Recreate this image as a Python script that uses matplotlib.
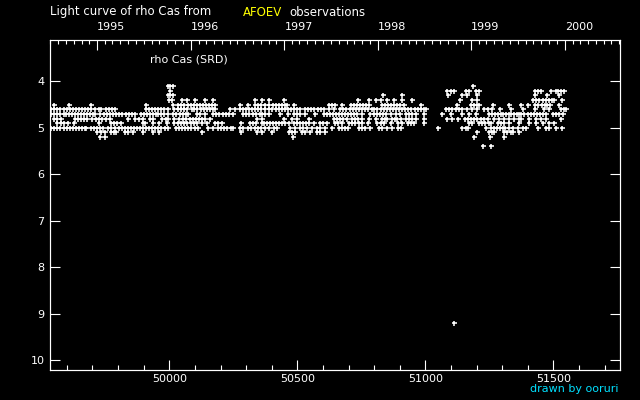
import datetime
import matplotlib
matplotlib.use("Agg")
import matplotlib.pyplot as plt
from matplotlib.ticker import MultipleLocator, FixedLocator, ScalarFormatter

# JD - 2400000 of each estimate, grouped by the visual magnitude (0.1 mag steps)
jd_m41 = [49996, 50004, 50016, 51186]
jd_m42 = [50003, 51086, 51099, 51112, 51158, 51171, 51198, 51208, 51430, 51442,
          51452, 51491, 51510, 51520, 51530, 51543]
jd_m43 = [49996, 50004, 50016, 50835, 50910, 51090, 51145, 51164, 51200, 51430,
          51474, 51521]
jd_m44 = [49999, 50009, 50048, 50068, 50100, 50139, 50172, 50335, 50361, 50388,
          50447, 50737, 50779, 50809, 50826, 50852, 50878, 50910, 50947, 51134,
          51184, 51203, 51422, 51434, 51446, 51458, 51470, 51482, 51494, 51504,
          51534]
jd_m45 = [49549, 49608, 49695, 49910, 50016, 50033, 50045, 50057, 50074, 50085,
          50097, 50109, 50121, 50133, 50145, 50157, 50168, 50178, 50276, 50306,
          50335, 50347, 50359, 50374, 50388, 50404, 50416, 50428, 50440, 50451,
          50460, 50486, 50622, 50634, 50648, 50674, 50711, 50723, 50733, 50746,
          50758, 50770, 50779, 50829, 50841, 50853, 50865, 50877, 50889, 50901,
          50917, 50982, 51125, 51177, 51189, 51201, 51210, 51263, 51328, 51374,
          51400, 51430, 51442, 51454, 51466, 51476, 51487, 51524]
jd_m46 = [49539, 49551, 49563, 49575, 49587, 49599, 49611, 49623, 49635, 49647,
          49659, 49671, 49683, 49695, 49708, 49724, 49734, 49754, 49766, 49778,
          49786, 49910, 49922, 49934, 49946, 49956, 49968, 49980, 49996, 50020,
          50035, 50046, 50058, 50070, 50087, 50098, 50110, 50122, 50134, 50146,
          50158, 50170, 50178, 50237, 50256, 50276, 50288, 50300, 50312, 50324,
          50336, 50348, 50360, 50374, 50391, 50403, 50415, 50427, 50439, 50451,
          50463, 50475, 50487, 50499, 50512, 50531, 50543, 50555, 50567, 50579,
          50591, 50603, 50622, 50642, 50668, 50680, 50692, 50704, 50716, 50728,
          50740, 50752, 50764, 50776, 50792, 50800, 50813, 50826, 50838, 50850,
          50862, 50874, 50886, 50898, 50910, 50922, 50934, 50946, 50958, 50970,
          50982, 50994, 51001, 51082, 51094, 51106, 51118, 51130, 51142, 51164,
          51184, 51203, 51231, 51244, 51260, 51292, 51335, 51380, 51430, 51465,
          51484, 51530, 51542, 51550]
jd_m47 = [49539, 49551, 49563, 49575, 49587, 49597, 49607, 49619, 49631, 49643,
          49655, 49667, 49679, 49691, 49703, 49708, 49728, 49745, 49757, 49769,
          49781, 49793, 49805, 49817, 49829, 49841, 49853, 49865, 49888, 49900,
          49912, 49924, 49936, 49948, 49956, 49968, 49980, 49996, 50016, 50028,
          50040, 50052, 50064, 50074, 50107, 50119, 50139, 50172, 50184, 50196,
          50208, 50220, 50232, 50250, 50289, 50301, 50313, 50325, 50337, 50354,
          50362, 50374, 50391, 50434, 50464, 50486, 50498, 50510, 50531, 50570,
          50603, 50615, 50627, 50639, 50651, 50663, 50675, 50687, 50699, 50711,
          50723, 50735, 50752, 50785, 50799, 50811, 50823, 50835, 50847, 50865,
          50887, 50900, 50923, 50935, 50947, 50962, 50995, 51066, 51099, 51142,
          51171, 51197, 51247, 51259, 51271, 51283, 51296, 51302, 51314, 51328,
          51335, 51347, 51359, 51367, 51374, 51386, 51400, 51413, 51425, 51437,
          51449, 51458, 51471, 51497, 51509, 51524, 51537]
jd_m48 = [49549, 49561, 49578, 49630, 49642, 49654, 49667, 49680, 49698, 49715,
          49727, 49739, 49751, 49767, 49838, 49867, 49880, 49897, 49923, 49936,
          49973, 49986, 49996, 50020, 50038, 50055, 50067, 50079, 50091, 50103,
          50115, 50127, 50139, 50159, 50341, 50361, 50447, 50479, 50499, 50544,
          50642, 50654, 50666, 50678, 50694, 50714, 50726, 50738, 50752, 50779,
          50809, 50829, 50842, 50852, 50869, 50881, 50891, 50904, 50923, 50936,
          50948, 50962, 50995, 51086, 51106, 51129, 51155, 51167, 51179, 51191,
          51203, 51218, 51231, 51244, 51270, 51289, 51309, 51328, 51348, 51367,
          51374, 51406, 51432, 51452, 51471, 51530]
jd_m49 = [49562, 49578, 49590, 49604, 49628, 49724, 49771, 49783, 49795, 49812,
          49897, 49904, 49936, 49960, 49990, 50020, 50035, 50047, 50059, 50071,
          50083, 50095, 50107, 50126, 50146, 50178, 50190, 50204, 50280, 50315,
          50327, 50339, 50361, 50369, 50381, 50393, 50405, 50417, 50429, 50441,
          50453, 50466, 50486, 50498, 50510, 50522, 50534, 50546, 50564, 50590,
          50602, 50616, 50648, 50660, 50674, 50703, 50715, 50727, 50740, 50753,
          50776, 50813, 50825, 50839, 50865, 50895, 50910, 50934, 50946, 50956,
          50995, 51171, 51184, 51211, 51223, 51235, 51247, 51257, 51283, 51295,
          51309, 51328, 51367, 51406, 51432, 51458, 51484, 51504]
jd_m50 = [49539, 49551, 49563, 49575, 49587, 49599, 49611, 49623, 49635, 49647,
          49659, 49671, 49676, 49693, 49705, 49717, 49729, 49741, 49760, 49773,
          49786, 49802, 49814, 49826, 49838, 49850, 49862, 49874, 49886, 49898,
          49910, 49922, 49934, 49946, 49956, 49968, 49983, 49996, 50025, 50037,
          50049, 50061, 50073, 50085, 50100, 50113, 50152, 50172, 50191, 50203,
          50215, 50227, 50240, 50250, 50276, 50289, 50309, 50321, 50333, 50345,
          50357, 50374, 50388, 50408, 50421, 50473, 50492, 50512, 50524, 50536,
          50557, 50577, 50589, 50609, 50635, 50661, 50673, 50685, 50697, 50740,
          50752, 50766, 50785, 50819, 50832, 50852, 50871, 50895, 50904, 51051,
          51145, 51158, 51168, 51237, 51257, 51269, 51281, 51293, 51302, 51313,
          51328, 51341, 51361, 51380, 51393, 51439, 51471, 51484, 51510, 51534]
jd_m51 = [49719, 49734, 49747, 49771, 49783, 49793, 49828, 49840, 49858, 49897,
          49936, 49960, 50126, 50280, 50341, 50361, 50401, 50466, 50478, 50492,
          50518, 50530, 50551, 50577, 50589, 50609, 51203, 51247, 51260, 51270,
          51309, 51321, 51333, 51341, 51367]
jd_m52 = [49728, 49750, 50482, 51190, 51253, 51309]
jd_m54 = [51224, 51257]
jd_m92 = [51113]

mags = [4.1, 4.2, 4.3, 4.4, 4.5, 4.6, 4.7, 4.8, 4.9, 5.0, 5.1, 5.2, 5.4, 9.2]
jd_rows = [jd_m41, jd_m42, jd_m43, jd_m44, jd_m45, jd_m46, jd_m47, jd_m48,
           jd_m49, jd_m50, jd_m51, jd_m52, jd_m54, jd_m92]

years = [1995, 1996, 1997, 1998, 1999, 2000]

#====================================================================================================

def jdOf(y, m):
    # JD - 2400000 at 0h UT of the first day of a month
    return (datetime.date(y, m, 1) - datetime.date(1858, 11, 17)).days + 0.5

#====================================================================================================

def main():
    plt.rcParams["font.family"] = ["DejaVu Sans"]
    W, H = 640, 400
    x0, x1 = 49534, 51760.5

    fig = plt.figure(figsize=(6.4, 4.0), dpi=100, facecolor="black")
    ax = fig.add_axes([50 / W, 30 / H, 570 / W, 330 / H], facecolor="black")

    for jds, mag in zip(jd_rows, mags):
        ax.plot(jds, [mag] * len(jds), linestyle="", marker="+", color="white",
                markersize=3.6, markeredgewidth=1.15)

    ax.set_xlim(x0, x1)
    ax.set_ylim(10.21, 3.11)

    ax.xaxis.set_major_locator(MultipleLocator(500))
    ax.xaxis.set_minor_locator(MultipleLocator(100))
    fmt = ScalarFormatter(useOffset=False)
    ax.xaxis.set_major_formatter(fmt)
    ax.set_yticks([4, 5, 6, 7, 8, 9, 10])

    ax.tick_params(axis="x", which="major", direction="in", length=7.2, width=0.8,
                   colors="white", labelsize=8, pad=3, top=False)
    ax.tick_params(axis="x", which="minor", direction="in", length=3.6, width=0.8,
                   colors="white", top=False)
    ax.tick_params(axis="y", which="major", direction="in", length=7.2, width=0.8,
                   colors="white", labelsize=8, pad=4, left=True, right=True)
    for s in ax.spines.values():
        s.set_color("white")
        s.set_linewidth(0.8)

    # calendar years on top
    ax2 = ax.twiny()
    ax2.set_xlim(x0, x1)
    ax2.patch.set_visible(False)
    ax2.xaxis.set_major_locator(FixedLocator([jdOf(y, 1) for y in years]))
    ax2.set_xticklabels([str(y) for y in years])
    months = [jdOf(y, m) for y in range(1994, 2001) for m in range(1, 13)]
    ax2.xaxis.set_minor_locator(FixedLocator([j for j in months if x0 < j < x1]))
    ax2.tick_params(axis="x", which="major", direction="in", length=7.2, width=0.8,
                    colors="white", labelsize=8, pad=5.5)
    ax2.tick_params(axis="x", which="minor", direction="in", length=2.6, width=0.8,
                    colors="white")
    for lab in ax2.get_xticklabels():
        lab.set_horizontalalignment("left")
    for s in ax2.spines.values():
        s.set_color("white")
        s.set_linewidth(0.8)

    fig.text(50 / W, 1 - 12 / H, "Light curve of rho Cas from", color="white",
             fontsize=8.5, va="center", ha="left")
    fig.text(243 / W, 1 - 12 / H, "AFOEV", color="#ffff00",
             fontsize=8.5, va="center", ha="left")
    fig.text(289 / W, 1 - 12 / H, "observations", color="white",
             fontsize=8.5, va="center", ha="left")
    fig.text(150 / W, 1 - 60 / H, "rho Cas (SRD)", color="white",
             fontsize=8, va="center", ha="left")
    fig.text(618 / W, 1 - 389 / H, "drawn by ooruri", color="#00e0ff",
             fontsize=8, va="center", ha="right")

    fig.savefig("out.png", dpi=100, facecolor="black")

#====================================================================================================

if __name__ == "__main__":
    main()
